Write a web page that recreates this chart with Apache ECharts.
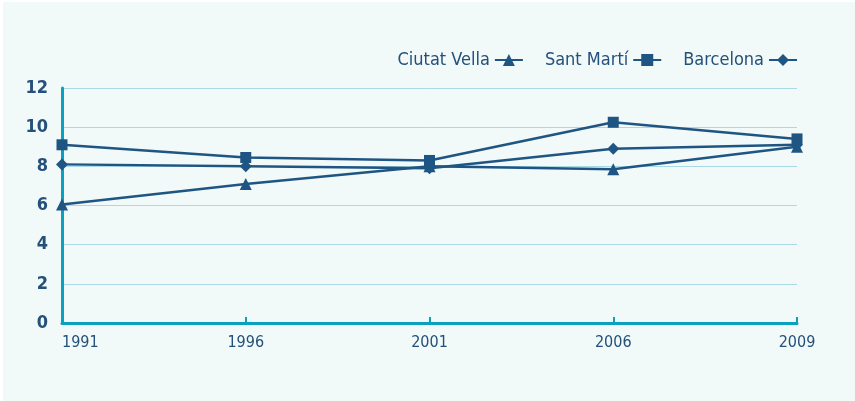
<!DOCTYPE html>
<html><head><meta charset="utf-8">
<script src="https://cdn.jsdelivr.net/npm/echarts@6/dist/echarts.min.js"></script>
<style>html,body{margin:0;padding:0;background:#fff;}#c{position:absolute;left:3px;top:2px;width:852px;height:399px;}</style>
</head><body><div id="c"></div>
<script>
const categories = ['1991','1996','2001','2006','2009'];
const ciutatVella = [6.05, 7.1, 8.0, 7.85, 9.0];
const santMarti = [9.1, 8.45, 8.3, 10.25, 9.4];
const barcelona = [8.1, 8.0, 7.9, 8.9, 9.1];
const yTicks = [0, 2, 4, 6, 8, 10, 12];

const lineColor = '#1f5582';
const font = '"Liberation Sans Narrow", "DejaVu Sans Condensed", sans-serif';
const chart = echarts.init(document.getElementById('c'));
function mk(name, data, symbol, size) {
  return {name, type: 'line', data, symbol, symbolSize: size,
    lineStyle: {color: lineColor, width: 2.5}, itemStyle: {color: lineColor},
    emphasis: {disabled: true}, z: 3};
}
chart.setOption({
  backgroundColor: '#f1f9f9',
  animation: false,
  legend: {
    right: 52, top: 44, align: 'right', itemGap: 21, itemWidth: 28, itemHeight: 15,
    textStyle: {color: '#24507a', fontSize: 18, fontFamily: font},
    data: ['Ciutat Vella', 'Sant Martí', 'Barcelona']
  },
  grid: {left: 59, right: 58, top: 86, bottom: 78, containLabel: false},
  xAxis: {
    type: 'category', data: categories, boundaryGap: false,
    axisLine: {lineStyle: {color: '#0aa0c0', width: 3}},
    axisTick: {show: true, inside: true, length: 6, lineStyle: {color: '#0aa0c0', width: 2}},
    axisLabel: {color: '#24507a', fontSize: 16, fontFamily: font, margin: 12, alignMinLabel: 'left'},
    splitLine: {show: false}
  },
  yAxis: {
    type: 'value', min: 0, max: 12, interval: 2,
    axisLine: {show: true, lineStyle: {color: '#0aa0c0', width: 3}},
    axisTick: {show: false},
    axisLabel: {color: '#24507a', fontSize: 18, fontWeight: 'bold', fontFamily: font, margin: 14,
      formatter: v => yTicks.includes(v) ? String(v) : ''},
    splitLine: {lineStyle: {color: '#a9d8e6', width: 1}}
  },
  series: [
    mk('Ciutat Vella', ciutatVella, 'triangle', 12),
    mk('Sant Martí', santMarti, 'rect', 11),
    mk('Barcelona', barcelona, 'diamond', 12)
  ]
});
</script></body></html>
